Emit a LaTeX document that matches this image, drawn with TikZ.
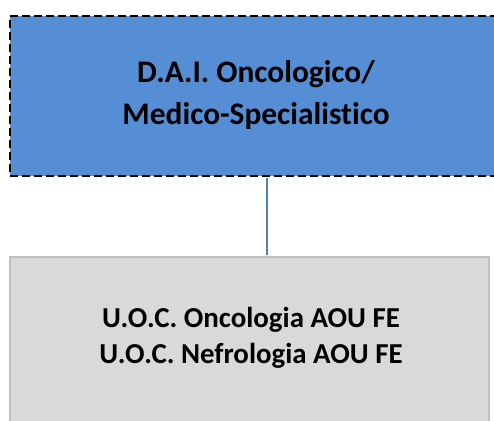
\documentclass[tikz,border=0pt]{standalone}
\usepackage{fontspec}
\setmainfont[Ligatures=NoCommon]{Carlito}
\definecolor{boxblue}{RGB}{85,142,213}
\definecolor{linkblue}{RGB}{79,129,189}
\definecolor{boxgrey}{RGB}{217,217,217}
\definecolor{edgegrey}{RGB}{191,191,191}
\begin{document}
\begin{tikzpicture}[x=1bp,y=-1bp,
  topbox/.style={draw=black, fill=boxblue, line width=2bp, dash pattern=on 8bp off 4bp},
  botbox/.style={draw=edgegrey, fill=boxgrey, line width=1.5bp},
  lbl/.style={align=center, font=\bfseries, text=black, inner sep=0pt},
  link/.style={draw=linkblue, line width=1.5bp}]
\useasboundingbox (0,0) rectangle (494,420);
\begin{scope}
\clip (0,0) rectangle (494,420);
\node[topbox, minimum width=494bp, minimum height=160bp, anchor=north west, inner sep=0pt] (top) at (9,15) {};
\node[botbox, minimum width=479bp, minimum height=180bp, anchor=north west, inner sep=0pt] (bot) at (9,256) {};
\end{scope}
\node[lbl, font=\bfseries\fontsize{31.5}{42}\selectfont] (toptext) at (256,95) {D.A.I. Oncologico/\\Medico-Specialistico};
\node[lbl, font=\bfseries\fontsize{29}{36}\selectfont] (bottext) at (251,338) {U.O.C. Oncologia AOU FE\\U.O.C. Nefrologia AOU FE};
\coordinate (cx) at (267,0);
\draw[link] ([yshift=-1bp]top.south -| cx) -- ([yshift=1bp]bot.north -| cx);
\end{tikzpicture}
\end{document}
